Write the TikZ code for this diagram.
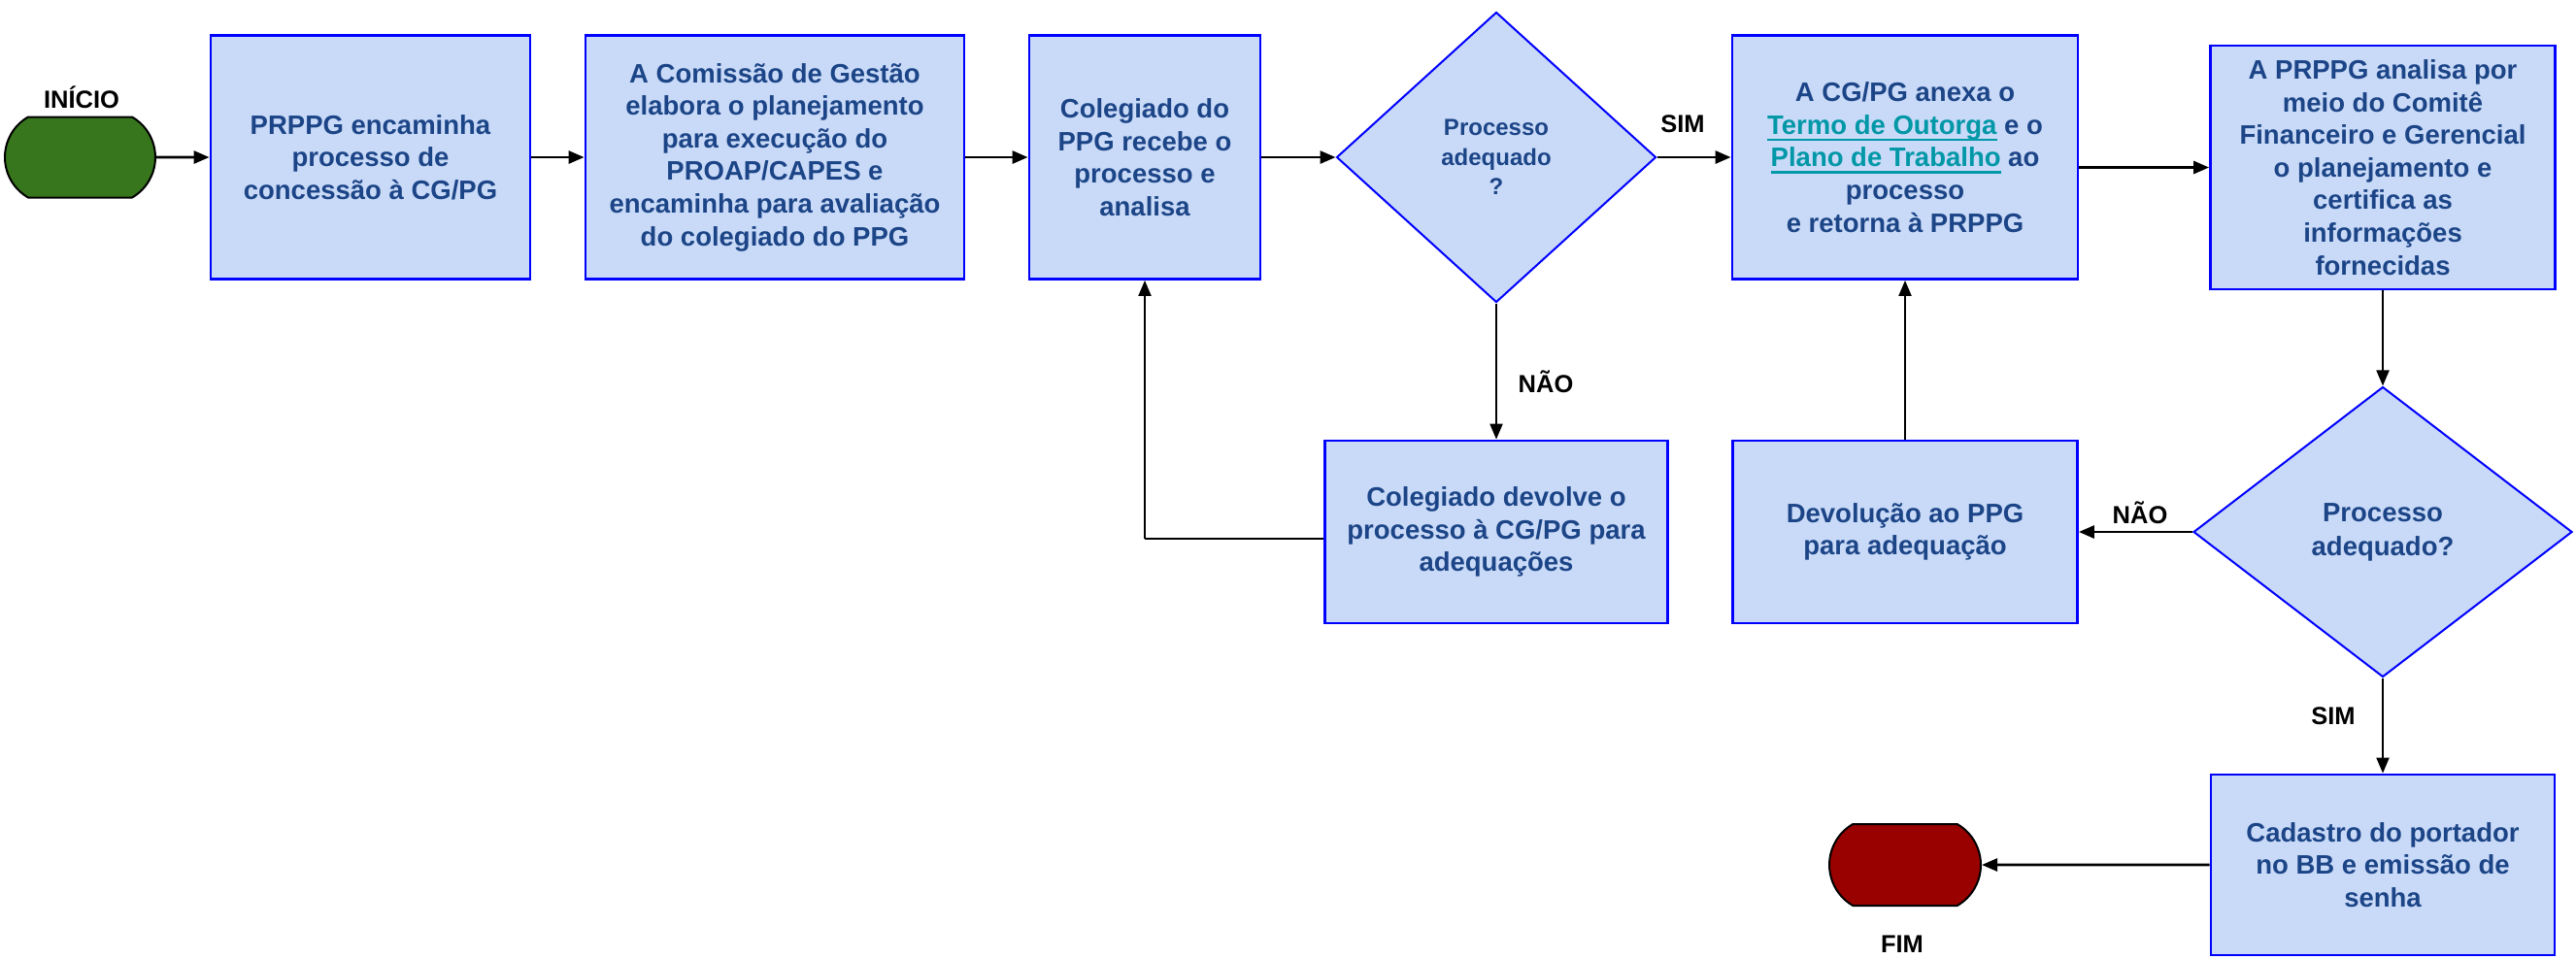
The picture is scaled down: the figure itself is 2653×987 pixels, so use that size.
\documentclass[tikz,border=0pt]{standalone}
\usepackage{fontspec}
\setmainfont{Liberation Sans}
\usetikzlibrary{shapes.geometric,shapes.misc,arrows.meta}
\definecolor{boxfill}{HTML}{C9DAF8}
\definecolor{boxdraw}{HTML}{0000FF}
\definecolor{boxtext}{HTML}{1C4587}
\definecolor{linkc}{HTML}{0097A7}
\definecolor{startc}{HTML}{38761D}
\definecolor{endc}{HTML}{990000}
\newcommand{\ulnk}[1]{\setbox0=\hbox{#1}\rlap{\color{linkc}\rule[-3.6pt]{\wd0}{1.3pt}}{\color{linkc}\box0}}
\begin{document}
\begin{tikzpicture}[x=0.5pt,y=-0.5pt,
  procbox/.style={rectangle, draw=boxdraw, fill=boxfill, line width=1.4pt, text=boxtext,
    font=\fontsize{13.75pt}{16.8pt}\selectfont\bfseries, align=center, inner sep=0pt},
  decbox/.style={diamond, draw=boxdraw, fill=boxfill, line width=1pt, text=boxtext,
    align=center, inner sep=0pt},
  term/.style={rounded rectangle, rounded rectangle arc length=120, draw=black, line width=1pt, inner sep=0pt},
  lbl/.style={font=\fontsize{12.75pt}{15pt}\selectfont\bfseries, text=black, inner sep=0pt},
  flow/.style={-{Triangle[length=8pt,width=6.5pt]}, line width=1.4pt},
  flowthin/.style={-{Triangle[length=8pt,width=6.5pt]}, line width=1pt},
  thickline/.style={line width=1.4pt}
]
\useasboundingbox[fill=white] (0,0) rectangle (2653,987);

% terminators
\node[term, fill=startc, minimum width=77.5pt, minimum height=41.5pt] (start) at (82.5,162) {};
\node[lbl] (startlbl) at (84,100) {INÍCIO};
\node[term, fill=endc, minimum width=78pt, minimum height=42pt] (fim) at (1962,891) {};
\node[lbl] (fimlbl) at (1959,973) {FIM};

% top row
\node[procbox, minimum width=164.5pt, minimum height=125.5pt] (box1) at (381.5,162)
  {PRPPG encaminha\\processo de\\concessão à CG/PG};
\node[procbox, minimum width=195pt, minimum height=125.5pt] (box2) at (798,162)
  {A Comissão de Gestão\\elabora o planejamento\\para execução do\\PROAP/CAPES e\\encaminha para avaliação\\do colegiado do PPG};
\node[procbox, minimum width=119pt, minimum height=125.5pt] (box3) at (1179,162)
  {Colegiado do\\PPG recebe o\\processo e\\analisa};
\node[decbox, minimum width=164.5pt, minimum height=149.5pt,
  font=\fontsize{12pt}{15.2pt}\selectfont\bfseries] (dia1) at (1541,162)
  {Processo\\adequado\\?};
\node[procbox, minimum width=178pt, minimum height=125.5pt] (box4) at (1962,162)
  {A CG/PG anexa o\\\ulnk{Termo de Outorga} e o\\\ulnk{Plano de Trabalho} ao\\processo\\e retorna à PRPPG};
\node[procbox, minimum width=177.5pt, minimum height=125.5pt] (box5) at (2454,172.5)
  {A PRPPG analisa por\\meio do Comitê\\Financeiro e Gerencial\\o planejamento e\\certifica as\\informações\\fornecidas};

% middle row
\node[procbox, minimum width=176.5pt, minimum height=94pt] (box6) at (1541,548)
  {Colegiado devolve o\\processo à CG/PG para\\adequações};
\node[procbox, minimum width=177.5pt, minimum height=94pt] (box7) at (1962,548)
  {Devolução ao PPG\\para adequação};
\node[decbox, minimum width=195pt, minimum height=149.5pt,
  font=\fontsize{13.75pt}{17.4pt}\selectfont\bfseries] (dia2) at (2454,548)
  {Processo\\adequado?};

% bottom row
\node[procbox, minimum width=177pt, minimum height=93pt] (box8) at (2454,891)
  {Cadastro do portador\\no BB e emissão de\\senha};

% labels
\node[lbl] (sim1) at (1733,128) {SIM};
\node[lbl] (nao1) at (1592,393) {NÃO};
\node[lbl] (nao2) at (2204,528) {NÃO};
\node[lbl] (sim2) at (2403,738) {SIM};

% connectors
\draw[flow] (start) -- (box1);
\draw[flow] (box1) -- (box2);
\draw[flow] (box2) -- (box3);
\draw[flow] (box3) -- (dia1);
\draw[flow] (dia1) -- (box4);
\draw[flow] (box4.east |- box5.west) -- (box5.west);
\draw[flowthin] (box5) -- (dia2);
\draw[flowthin] (dia1) -- (box6);
\draw[flow] (dia2) -- (box7);
\draw[flowthin] (box7) -- (box4);
\draw[flowthin] (dia2) -- (box8);
\draw[flow] (box8) -- (fim);
\coordinate (loopc) at (1179,555);
\draw[thickline] (box6.west |- loopc) -- (loopc);
\draw[flowthin] (loopc) -- (box3.south);
\end{tikzpicture}
\end{document}
